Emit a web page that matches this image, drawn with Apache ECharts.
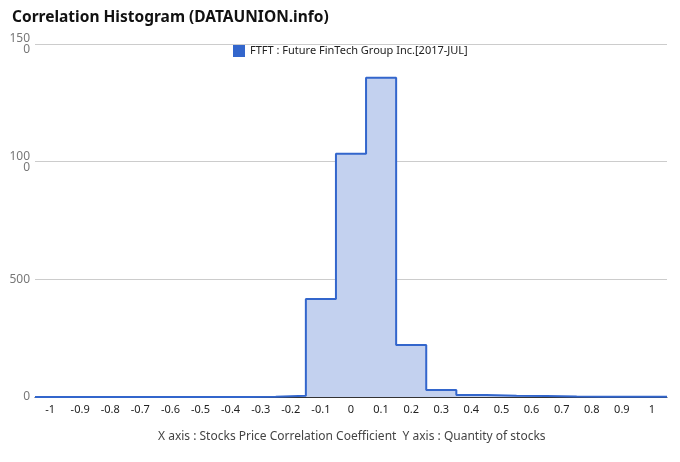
<!DOCTYPE html>
<html><head><meta charset="utf-8">
<script src="https://cdn.jsdelivr.net/npm/echarts@6/dist/echarts.min.js"></script>
<style>html,body{margin:0;padding:0;background:#fff}#c{width:680px;height:462px}</style>
</head><body><div id="c"></div>
<script>
var categories = ['-1','-0.9','-0.8','-0.7','-0.6','-0.5','-0.4','-0.3','-0.2','-0.1','0','0.1','0.2','0.3','0.4','0.5','0.6','0.7','0.8','0.9','1'];
var binCenters = [-1,-0.9,-0.8,-0.7,-0.6,-0.5,-0.4,-0.3,-0.2,-0.1,0,0.1,0.2,0.3,0.4,0.5,0.6,0.7,0.8,0.9,1];
var counts = [0,0,0,0,0,0,0,1,5,416,1034,1357,221,30,9,5,4,2,1,1,1];
var yTicks = [0,500,1000,1500];
var seriesName = 'FTFT : Future FinTech Group Inc.[2017-JUL]';

var data = [];
for (var i = 0; i < binCenters.length; i++) data.push([binCenters[i] - 0.05, counts[i]]);
data.push([binCenters[binCenters.length-1] + 0.05, counts[counts.length-1]]);

var font = '"Noto Sans", "Open Sans", sans-serif';
var chart = echarts.init(document.getElementById('c'));
chart.setOption({
  animation: false,
  title: {text: 'Correlation Histogram (DATAUNION.info)', left: 7, top: 5,
    textStyle: {fontSize: 15.5, fontWeight: 'bold', color: '#111', fontFamily: font}},
  legend: {top: 40, left: 228, itemWidth: 12, itemHeight: 12, itemGap: 6,
    icon: 'rect', textStyle: {fontSize: 11, color: '#222', fontFamily: font},
    data: [{name: seriesName, icon: 'rect', itemStyle: {color: '#3366CC'}}]},
  grid: {left: 35, right: 13, top: 44, bottom: 65},
  xAxis: [{
    type: 'category', data: categories, boundaryGap: true,
    axisLine: {lineStyle: {color: '#333', width: 1}}, axisTick: {show: false},
    axisLabel: {color: '#222', fontSize: 11, fontFamily: font, margin: 7, interval: 0}
  }, {
    type: 'value', min: -1.05, max: 1.05, show: false
  }],
  yAxis: {
    type: 'value', min: yTicks[0], max: yTicks[yTicks.length-1], interval: 500,
    axisLine: {show: false}, axisTick: {show: false},
    splitLine: {lineStyle: {color: '#ccc'}},
    axisLabel: {color: '#777', fontSize: 12, fontFamily: font, margin: 5, lineHeight: 11,
      formatter: function (v) { var s = String(v); return s.length > 3 ? s.slice(0,3) + '\n' + s.slice(3) : s; }}
  },
  series: [{
    name: seriesName, type: 'line', xAxisIndex: 1, step: 'end', data: data,
    symbol: 'none', lineStyle: {color: '#3366CC', width: 2},
    itemStyle: {color: '#3366CC'},
    areaStyle: {color: '#C3D1EF', opacity: 1}
  }],
  graphic: [{type: 'text', left: 158, top: 431,
    style: {text: 'X axis : Stocks Price Correlation Coefficient  Y axis : Quantity of stocks',
      fill: '#444', fontSize: 12, fontFamily: font}}]
});
</script></body></html>
